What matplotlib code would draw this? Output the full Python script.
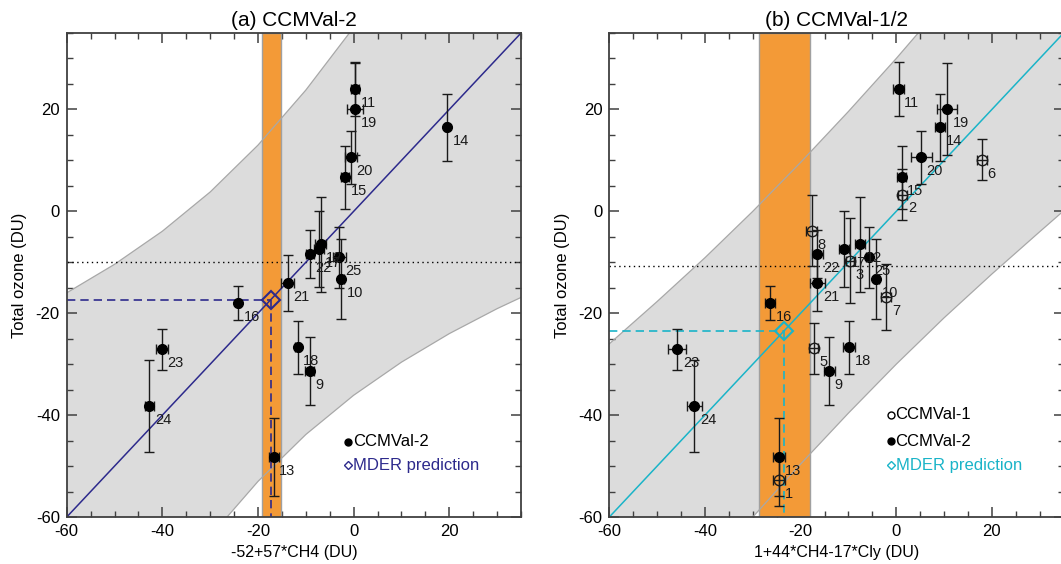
import numpy as np
import matplotlib
matplotlib.use('Agg')
import matplotlib.pyplot as plt

plt.rcParams['font.family'] = ['Liberation Sans', 'DejaVu Sans']
plt.rcParams['axes.unicode_minus'] = False

# total ozone of the CCMVal-2 models (same in both panels)
models2 = [9, 10, 11, 12, 13, 14, 15, 16, 17, 18, 19, 20, 21, 22, 23, 24, 25]
ozone2 = [-31.4, -13.3, 24.0, -6.5, -48.2, 16.5, 6.7, -18.0, -7.4, -26.7, 20.1, 10.6, -14.1, -8.4, -27.1, -38.2, -9.0]
ozone2_err = [6.7, 7.8, 5.3, 9.3, 7.7, 6.6, 6.2, 3.3, 7.5, 5.2, 9.0, 5.2, 5.5, 4.7, 4.0, 9.1, 6.0]

# panel (a): -52+57*CH4
xa = [-9.2, -2.6, 0.3, -6.9, -16.7, 19.5, -1.8, -24.1, -7.2, -11.7, 0.3, -0.6, -13.8, -9.2, -40.1, -42.7, -3.0]
xa_err = [1.0, 0.5, 0.8, 1.2, 1.0, 0.3, 0.8, 0.3, 1.0, 0.5, 1.6, 1.3, 1.3, 0.8, 1.2, 1.0, 1.3]

# panel (b): 1+44*CH4-17*Cly
xb2 = [-14.0, -4.2, 0.5, -7.6, -24.5, 9.2, 1.1, -26.4, -10.9, -9.9, 10.6, 5.2, -16.5, -16.5, -45.8, -42.2, -5.8]
xb2_err = [1.2, 0.5, 1.2, 1.0, 1.2, 1.0, 1.0, 1.1, 1.0, 1.2, 2.0, 2.2, 1.6, 1.2, 1.9, 1.5, 0.5]

# CCMVal-1 models (panel b only)
models1 = [1, 2, 3, 5, 6, 7, 8]
xb1 = [-24.5, 1.3, -9.6, -17.3, 17.9, -2.1, -17.7]
xb1_err = [1.2, 1.0, 1.0, 1.0, 1.0, 1.0, 1.2]
ozone1 = [-52.8, 3.3, -9.7, -26.9, 10.1, -16.8, -3.8]
ozone1_err = [5.0, 5.0, 8.3, 5.0, 4.0, 6.5, 7.0]

# prediction band edges
band_x = [-60, -50, -40, -30, -20, -10, 0, 10, 20, 30, 35]
band_a_up = [-16.0, -10.4, -3.9, 3.8, 13.0, 23.8, 36.1, 49.6, 64.0, 79.1, 86.9]
band_a_lo = [-104.0, -89.6, -76.1, -63.8, -53.0, -43.8, -36.1, -29.6, -24.0, -19.1, -16.9]
band_b_up = [-26.0, -17.7, -9.1, 0.0, 9.6, 19.6, 30.0, 40.9, 52.3, 64.0, 69.9]
band_b_lo = [-94.0, -82.3, -70.9, -60.0, -49.6, -39.6, -30.0, -20.9, -12.3, -4.0, 0.1]

# regression, observations and MDER prediction
fit_slope = 1.0
fit_icpt = 0.0
obs_a = -10.0
obs_b = -10.8
mder_a = (-17.3, -17.4)
mder_b = (-23.4, -23.5)
obs_range_a = (-19.1, -15.3)
obs_range_b = (-28.6, -18.0)

navy = '#2d2a8c'
cyan = '#1ab4c8'
orange = '#f39a37'


def panel(ax, title, xlabel, band_up, band_lo, obs, obs_range, mder, col):
    ax.fill_between(band_x, band_lo, band_up, color='#dcdcdc', lw=0, zorder=1)
    ax.axvspan(obs_range[0], obs_range[1], facecolor=orange, edgecolor='#a0a0a0', lw=1, zorder=2)
    ax.plot(band_x, band_up, color='#a8a8a8', lw=0.9, zorder=3)
    ax.plot(band_x, band_lo, color='#a8a8a8', lw=0.9, zorder=3)
    ax.axhline(obs, color='black', ls=(0, (1, 2.5)), lw=1, zorder=3)
    ax.axline((0, fit_icpt), slope=fit_slope, color=col, lw=1.1, zorder=4)
    ax.plot([-60, mder[0]], [mder[1], mder[1]], color=col, ls=(0, (5, 3)), lw=1.2, zorder=4)
    ax.plot([mder[0], mder[0]], [mder[1], -60], color=col, ls=(0, (5, 3)), lw=1.2, zorder=4)
    ax.plot(mder[0], mder[1], marker='D', ms=9.5, mfc='none', mec=col, mew=1.5, zorder=8)

    ax.set_xlim(-60, 35)
    ax.set_ylim(-60, 35)
    ax.set_xticks([-60, -40, -20, 0, 20])
    ax.set_yticks([-60, -40, -20, 0, 20])
    ax.set_xticks(np.arange(-60, 36, 5), minor=True)
    ax.set_yticks(np.arange(-60, 36, 5), minor=True)
    ax.tick_params(which='both', direction='in', top=True, right=True, color='#404040', labelsize=12)
    ax.tick_params(which='major', length=7, width=1.1, pad=5)
    ax.tick_params(which='minor', length=4, width=1)
    for s in ax.spines.values():
        s.set_color('#404040')
        s.set_linewidth(1.3)
        s.set_zorder(10)
    ax.set_title(title, fontsize=15, pad=5)
    ax.set_xlabel(xlabel, fontsize=11.5, labelpad=4)
    ax.set_ylabel('Total ozone (DU)', fontsize=12, labelpad=6)


def models(ax, x, xerr, y, yerr, names, filled):
    ax.errorbar(x, y, yerr=yerr, xerr=xerr, fmt='none', ecolor='#1a1a1a', elinewidth=1, capsize=3.5, capthick=1, zorder=5)
    if filled:
        ax.plot(x, y, 'o', ms=7, mfc='black', mec='black', zorder=6)
    else:
        ax.plot(x, y, 'o', ms=7.5, mfc='none', mec='#1a1a1a', mew=1, zorder=6)
    for xi, yi, n in zip(x, y, names):
        ax.annotate(str(n), (xi, yi), xytext=(4, -10), textcoords='offset points',
                    ha='left', va='center', fontsize=10.5, color='#1a1a1a', zorder=7)


def legend_row(ax, y, text, marker, mfc, col):
    ax.plot([0.62], [y], marker=marker, ms=5 if marker == 'o' else 4.5, mfc=mfc, mec=col, mew=1,
            transform=ax.transAxes, zorder=9, clip_on=False)
    ax.text(0.63, y, text, transform=ax.transAxes, fontsize=12, color=col, va='center', ha='left', zorder=9)


fig = plt.figure(figsize=(10.61, 5.64), dpi=100)
ax1 = fig.add_axes([0.0629, 0.0833, 0.4282, 0.8582])
ax2 = fig.add_axes([0.5743, 0.0833, 0.4282, 0.8582])

panel(ax1, '(a) CCMVal-2', '-52+57*CH4 (DU)', band_a_up, band_a_lo, obs_a, obs_range_a, mder_a, navy)
models(ax1, xa, xa_err, ozone2, ozone2_err, models2, True)
legend_row(ax1, 0.156, 'CCMVal-2', 'o', 'black', 'black')
legend_row(ax1, 0.107, 'MDER prediction', 'D', 'none', navy)

panel(ax2, '(b) CCMVal-1/2', '1+44*CH4-17*Cly (DU)', band_b_up, band_b_lo, obs_b, obs_range_b, mder_b, cyan)
models(ax2, xb1, xb1_err, ozone1, ozone1_err, models1, False)
models(ax2, xb2, xb2_err, ozone2, ozone2_err, models2, True)
legend_row(ax2, 0.211, 'CCMVal-1', 'o', 'none', 'black')
legend_row(ax2, 0.157, 'CCMVal-2', 'o', 'black', 'black')
legend_row(ax2, 0.107, 'MDER prediction', 'D', 'none', cyan)

fig.savefig('out.png', dpi=100)
